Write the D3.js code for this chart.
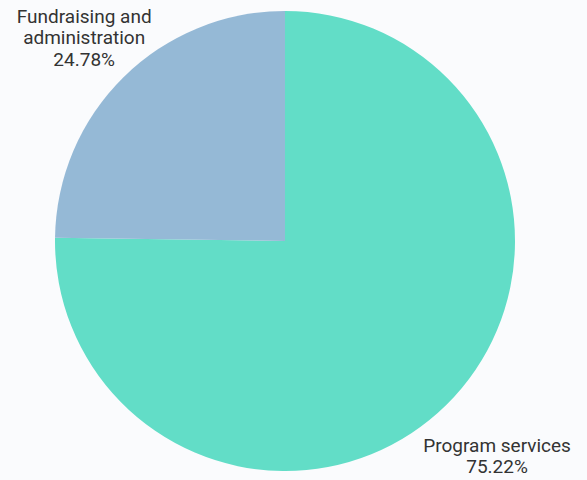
<!DOCTYPE html>
<html>
<head>
<meta charset="utf-8">
<script src="https://cdn.jsdelivr.net/npm/d3@7"></script>
<style>
  body { margin: 0; background: #fafbfd; }
  svg { display: block; }
  .lbl { font-family: Roboto, sans-serif; font-size: 19px; fill: #333; }
</style>
</head>
<body>
<div class="chart"></div>
<script>
'use strict';

const categories = ['Program services', 'Fundraising and administration'];
const values = [75.22, 24.78];
const labelLines = [['Program services', '75.22%'], ['Fundraising and', 'administration', '24.78%']];
const labelRadius = [302, 286];
const colors = ['#62ddc7', '#95b9d6'];

const width = 587;
const height = 480;
const cx = 285;
const cy = 241;
const radius = 230;
const lineHeight = 21.5;

const svg = d3.select('.chart').append('svg')
  .attr('width', width)
  .attr('height', height);

const g = svg.append('g')
  .attr('transform', `translate(${cx},${cy})`);

const pie = d3.pie().sort(null).value(d => d.value);
const data = pie(categories.map((c, i) => ({ name: c, value: values[i], lines: labelLines[i], lr: labelRadius[i] })));

const arc = d3.arc().innerRadius(0).outerRadius(radius);

g.selectAll('path')
  .data(data)
  .join('path')
  .attr('d', arc)
  .attr('fill', (d, i) => colors[i]);

const labels = g.selectAll('text.lbl')
  .data(data)
  .join('text')
  .attr('class', 'lbl')
  .attr('text-anchor', 'middle')
  .attr('transform', d => {
    const [x, y] = d3.arc().innerRadius(d.data.lr).outerRadius(d.data.lr).centroid(d);
    return `translate(${x},${y})`;
  });

labels.each(function(d) {
  const n = d.data.lines.length;
  d3.select(this).selectAll('tspan')
    .data(d.data.lines)
    .join('tspan')
    .attr('x', 0)
    .attr('y', (l, i) => (i - (n - 1) / 2) * lineHeight)
    .attr('dy', '0.35em')
    .text(l => l);
});
</script>
</body>
</html>
